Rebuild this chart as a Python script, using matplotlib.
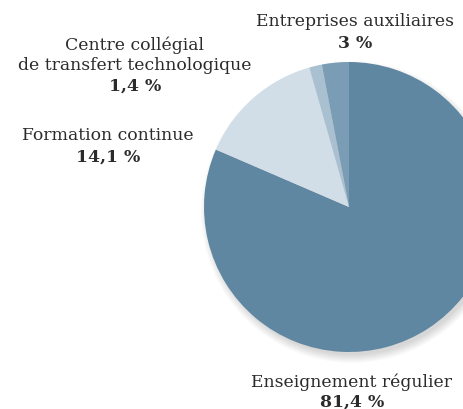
import numpy as np
import matplotlib
matplotlib.use("Agg")
import matplotlib.pyplot as plt
from matplotlib.patches import Circle

labels = ["Enseignement régulier", "Formation continue",
          "Centre collégial\nde transfert technologique", "Entreprises auxiliaires"]
values = [81.4, 14.1, 1.4, 3.0]
pct_text = ["81,4 %", "14,1 %", "1,4 %", "3 %"]
colors = ["#5f87a2", "#d2dee7", "#a9c0d1", "#7b9cb5"]

W, H = 464, 410
fig = plt.figure(figsize=(W / 100, H / 100), dpi=100)
ax = fig.add_axes([0, 0, 1, 1])

cx, cy, r = 349, H - 208, 145

# soft shadow, down and to the right
for k in range(10):
    ax.add_patch(Circle((cx + 3, cy - 5), r - 2 + k * 0.9, color="black",
                        alpha=0.014, lw=0, zorder=0))

ax.pie(values, colors=colors, startangle=90, counterclock=False,
       center=(cx, cy), radius=r, frame=True,
       wedgeprops=dict(linewidth=0))
ax.set_xlim(0, W)
ax.set_ylim(0, H)
ax.set_aspect("auto")
ax.axis("off")

font = "DejaVu Serif"
tc = "#2b2b2b"
fs = 12.4

def put(x, y, s, bold=False):
    ax.text(x, H - y, s, ha="center", va="center", fontsize=fs, color=tc,
            family=font, fontweight="bold" if bold else "normal")

put(352, 382, labels[0])
put(352, 402, pct_text[0], True)
put(108, 135, labels[1])
put(108, 157, pct_text[1], True)
put(135, 45, "Centre collégial")
put(135, 65, "de transfert technologique")
put(135, 86, pct_text[2], True)
put(355, 22, labels[3])
put(355, 43, pct_text[3], True)

fig.savefig("out.png", dpi=100, facecolor="white")
